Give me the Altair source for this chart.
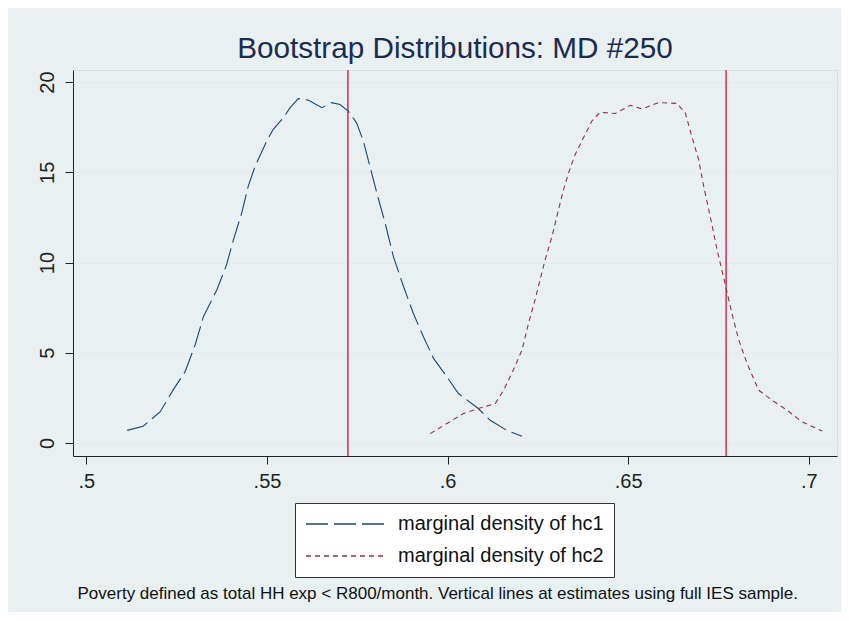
import altair as alt
import pandas as pd

# ---- data ----
hc1_x = [0.5113, 0.5157, 0.5204, 0.5240, 0.5273, 0.5301, 0.5324, 0.5361, 0.5388, 0.5407,
         0.5430, 0.5448, 0.5467, 0.5499, 0.5517, 0.5545, 0.5564, 0.5587, 0.5614, 0.5652,
         0.5679, 0.5702, 0.5725, 0.5748, 0.5767, 0.5785, 0.5804, 0.5827, 0.5850, 0.5878,
         0.5905, 0.5933, 0.5961, 0.5998, 0.6030, 0.6085, 0.6118, 0.6164, 0.6206]
hc1_y = [0.70, 0.93, 1.72, 2.93, 3.94, 5.43, 7.00, 8.48, 9.87, 11.26,
         12.74, 14.22, 15.33, 16.72, 17.37, 18.02, 18.58, 19.08, 19.00, 18.58,
         18.86, 18.76, 18.39, 17.74, 16.72, 15.33, 13.86, 12.19, 10.33, 8.67,
         7.19, 5.89, 4.69, 3.67, 2.74, 1.91, 1.26, 0.70, 0.37]

hc2_x = [0.5952, 0.5998, 0.6044, 0.6085, 0.6132, 0.6155, 0.6182, 0.6206, 0.6224, 0.6242,
         0.6256, 0.6270, 0.6289, 0.6307, 0.6321, 0.6335, 0.6353, 0.6376, 0.6399, 0.6422,
         0.6464, 0.6506, 0.6538, 0.6584, 0.6635, 0.6658, 0.6676, 0.6695, 0.6709, 0.6727,
         0.6746, 0.6769, 0.6787, 0.6806, 0.6829, 0.6861, 0.6898, 0.6940, 0.6981, 0.7037]
hc2_y = [0.52, 1.08, 1.63, 1.91, 2.19, 2.93, 4.04, 5.15, 6.63, 7.93,
         9.04, 10.15, 11.44, 12.93, 14.04, 14.97, 15.98, 16.91, 17.83, 18.33,
         18.26, 18.71, 18.52, 18.86, 18.82, 18.30, 17.00, 15.70, 14.22, 12.56,
         10.71, 8.76, 7.19, 5.71, 4.41, 2.93, 2.37, 1.82, 1.17, 0.67]

series_names = ["marginal density of hc1", "marginal density of hc2"]
estimates = [0.5724, 0.6771]

x_ticks = [0.5, 0.55, 0.6, 0.65, 0.7]
y_ticks = [0, 5, 10, 15, 20]

title_text = "Bootstrap Distributions: MD #250"
note_text = "Poverty defined as total HH exp < R800/month. Vertical lines at estimates using full IES sample."

# ---- build tables ----
df = pd.concat([
    pd.DataFrame({"x": hc1_x, "y": hc1_y, "series": series_names[0]}),
    pd.DataFrame({"x": hc2_x, "y": hc2_y, "series": series_names[1]}),
])
est_df = pd.DataFrame({"x": estimates})

FONT = "Liberation Sans"
x_scale = alt.Scale(domain=[0.4963, 0.7078], nice=False, zero=False)
y_scale = alt.Scale(domain=[-0.72, 20.67], nice=False, zero=False)

legend = alt.Legend(
    title=None,
    orient="none",
    legendX=222,
    legendY=433,
    direction="vertical",
    strokeColor="#333333",
    fillColor="white",
    padding=10,
    rowPadding=10,
    symbolType="stroke",
    symbolSize=6400,
    symbolStrokeWidth=1.3,
    clipHeight=22,
    labelOffset=11,
    labelFontSize=20,
    labelFont=FONT,
    labelColor="#111111",
    labelLimit=400,
)

lines = alt.Chart(df).mark_line(strokeWidth=1.1).encode(
    x=alt.X(
        "x:Q",
        scale=x_scale,
        axis=alt.Axis(
            values=x_ticks,
            labelExpr="substring(format(datum.value, '.2~f'), 1)",
            grid=False,
            tickSize=8,
            labelPadding=7,
            labelFontSize=20,
            labelFont=FONT,
            labelColor="#222222",
            domainColor="#222222",
            tickColor="#222222",
            title=note_text,
            titleFont=FONT,
            titleFontSize=17,
            titleFontWeight="normal",
            titleColor="#111111",
            titleAlign="left",
            titleBaseline="alphabetic",
            titleX=4,
            titleY=142,
        ),
    ),
    y=alt.Y(
        "y:Q",
        scale=y_scale,
        axis=alt.Axis(
            values=y_ticks,
            grid=True,
            gridColor="#e2ecef",
            gridWidth=1,
            tickSize=8,
            labelAngle=270,
            labelAlign="center",
            labelBaseline="alphabetic",
            labelPadding=12,
            labelFontSize=20,
            labelFont=FONT,
            labelColor="#222222",
            domainColor="#222222",
            tickColor="#222222",
            title=None,
        ),
    ),
    color=alt.Color(
        "series:N",
        scale=alt.Scale(domain=series_names, range=["#1a476f", "#90353b"]),
        legend=legend,
    ),
    strokeDash=alt.StrokeDash(
        "series:N",
        scale=alt.Scale(domain=series_names, range=[[22, 6], [5, 4]]),
        legend=legend,
    ),
)

rules = alt.Chart(est_df).mark_rule(color="#d62a55", strokeWidth=1.5).encode(
    x=alt.X("x:Q", scale=x_scale)
)

chart = (
    alt.layer(rules, lines)
    .properties(
        width=764,
        height=386,
        title=alt.TitleParams(
            text=title_text,
            font=FONT,
            fontSize=29.7,
            fontWeight="normal",
            color="#1c2b50",
            anchor="middle",
            baseline="alphabetic",
            offset=13,
            dy=31,
        ),
        autosize=alt.AutoSizeParams(type="none"),
        padding={"left": 65, "top": 62, "right": 4, "bottom": 156},
        background="#e8f0f2",
    )
    .configure_view(fill="white", strokeWidth=0)
    .configure(font=FONT)
)

chart.save("out.html", embed_options={"renderer": "svg", "actions": False})
